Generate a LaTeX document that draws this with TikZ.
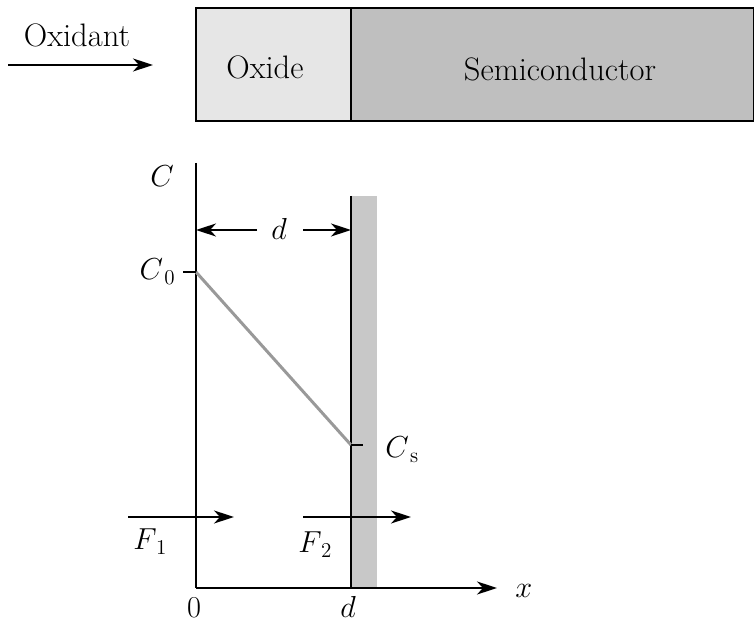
\documentclass[tikz,border=0pt]{standalone}
\usetikzlibrary{positioning,arrows.meta}
\definecolor{oxidegray}{HTML}{E6E6E6}
\definecolor{semigray}{HTML}{BFBFBF}
\definecolor{bandgray}{HTML}{C8C8C8}
\definecolor{profgray}{HTML}{999999}
\begin{document}
\begin{tikzpicture}[x=0.02cm,y=-0.02cm,
    lbl/.style={font=\fontsize{17}{20}\selectfont,inner sep=0pt},
    word/.style={font=\fontsize{18.5}{22}\selectfont,inner sep=0pt},
    arr/.style={-{Stealth[length=4mm,width=2.6mm,inset=1.2mm]},line width=1.1pt},
    axis/.style={line width=1.1pt},
    layer/.style={draw,line width=1pt}]
  \useasboundingbox (0,0) rectangle (754,624);
  % Layers at the top
  \draw[layer,fill=oxidegray] (196,8) rectangle (351,121);
  \draw[layer,fill=semigray] (351,8) rectangle (753.5,121);
  \node[word,anchor=base] (oxide) at (265,79) {Oxide};
  \node[word,anchor=base] (semi) at (560,81) {Semiconductor};
  \coordinate (oxA) at (8,65);
  \coordinate (oxB) at (153,65);
  \draw[arr] (oxA) -- (oxB);
  \node[word,anchor=base] (oxidant) at (77,47) {Oxidant};
  % Band behind the interface
  \fill[bandgray] (351,196) rectangle (377,588);
  % Axes
  \coordinate (orig) at (196,588);
  \coordinate (ytop) at (196,163);
  \coordinate (xend) at (497,588);
  \coordinate (ifbot) at (351,588);
  \coordinate (iftop) at (351,196);
  \draw[axis] (ytop) -- (orig);
  \draw[arr] (orig) -- (xend);
  \draw[axis] (iftop) -- (ifbot);
  \node[lbl,anchor=base] (labC) at (162,187) {$C$};
  \node[lbl,anchor=base west] (labx) at (515,598) {$x$};
  \node[lbl,anchor=base] (lab0) at (194,618) {$0$};
  \node[lbl,anchor=base] (labd) at (348,618) {$d$};
  % Thickness d
  \node[lbl,anchor=base] (dmid) at (279,240) {$d$};
  \coordinate (dL) at (196,230);
  \coordinate (dR) at (351,230);
  \draw[arr] (257,230) coordinate (dLs) -- (dL);
  \draw[arr] (303,230) coordinate (dRs) -- (dR);
  % Concentration profile
  \coordinate (c0) at (196,272);
  \coordinate (cs) at (351,445);
  \draw[profgray,line width=1.7pt] (c0) -- (cs);
  \draw[axis] (183,272) coordinate (c0t) -- (c0);
  \draw[axis] (cs) -- (363,445) coordinate (cst);
  \node[lbl,anchor=base east] (labC0) at (176,280) {$C_{\,0}$};
  \node[lbl,anchor=base west] (labCs) at (385,458) {$C_{\,\mathrm{s}}$};
  % Fluxes
  \coordinate (f1a) at (128,517);
  \coordinate (f1b) at (234,517);
  \coordinate (f2a) at (303,517);
  \coordinate (f2b) at (411,517);
  \draw[arr] (f1a) -- (f1b);
  \draw[arr] (f2a) -- (f2b);
  \node[lbl,anchor=base west] (labF1) at (133,550) {$F_{\,1}$};
  \node[lbl,anchor=base west] (labF2) at (298,553) {$F_{\,2}$};
\end{tikzpicture}
\end{document}
